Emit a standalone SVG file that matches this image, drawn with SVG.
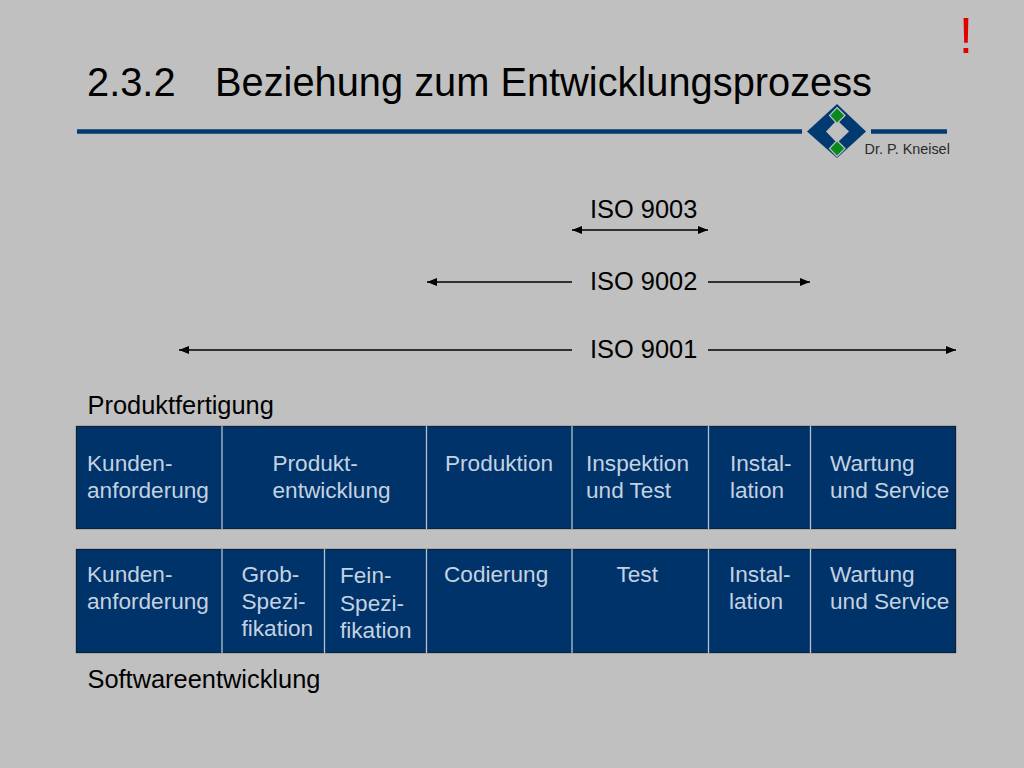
<svg xmlns="http://www.w3.org/2000/svg" width="1024" height="768" viewBox="0 0 1024 768">
<defs>
<marker id="a" markerUnits="userSpaceOnUse" markerWidth="11" markerHeight="9" refX="10" refY="4.500" orient="auto-start-reverse"><path d="M0 0.500L10 4.500L0 8.500Z" fill="#000"/></marker>
</defs>
<style>
text{font-family:"Liberation Sans",Arial,sans-serif}
.k{font-size:25.400px;fill:#000}
.c{font-size:22.600px;fill:#c4d2e0}
.b{fill:#00336a;stroke:#0b2238;stroke-width:1.3}
.d{stroke:#b4c0cc;stroke-width:1.3;fill:none}
.l{stroke:#000;stroke-width:1.4;fill:none;marker-start:url(#a);marker-end:url(#a)}
.o{stroke:#000;stroke-width:1.4;fill:none}
.h{stroke:#003a70;stroke-width:4.5;fill:none}
.g{fill:#0a8a1e;stroke:#c0c0c0;stroke-width:1.2}
</style>
<rect width="1024" height="768" fill="#c0c0c0"/>
<text x="87" y="96" font-size="39.800" fill="#000" id="title">2.3.2</text>
<text x="215" y="96" font-size="39.800" fill="#000">Beziehung zum Entwicklungsprozess</text>
<text x="959" y="53" font-size="50" fill="#e00000" id="mark">!</text>
<g id="logo">
<path class="h" d="M77 131.500H802M871 131.500H947"/>
<path d="M837 104L866 131.500L837 158L807 131.500Z" fill="#003a70"/>
<path d="M837 120L849 131.500L837 143L826 131.500Z" fill="#c0c0c0"/>
<path class="g" d="M837 107.500L845 115.500L837 123.500L829.500 115.500Z"/>
<path class="g" d="M837 140.500L845 148.500L837 156.500L829.500 148.500Z"/>
<text x="864.500" y="154" font-size="14.400" fill="#2a2a2a">Dr. P. Kneisel</text>
</g>
<g id="connectors">
<path class="l" d="M572 230H708"/>
<path class="o" d="M427 282H572" marker-start="url(#a)"/>
<path class="o" d="M708 282H810" marker-end="url(#a)"/>
<path class="o" d="M179 350H572" marker-start="url(#a)"/>
<path class="o" d="M708 350H956" marker-end="url(#a)"/>
</g>
<g id="iso"><text class="k" x="590" y="217.500">ISO 9003</text><text class="k" x="590" y="290">ISO 9002</text><text class="k" x="590" y="358">ISO 9001</text></g>
<text class="k" x="87.500" y="414" id="pf">Produktfertigung</text>
<g id="row1">
<rect class="b" x="76.500" y="426.500" width="879" height="102"/>
<path class="d" d="M222 426V529M426.500 426V529M572 426V529M708.500 426V529M810.500 426V529"/>
<text class="c" x="87" y="471">Kunden-</text><text class="c" x="87" y="498">anforderung</text>
<text class="c" x="272.500" y="471">Produkt-</text><text class="c" x="272.500" y="498">entwicklung</text>
<text class="c" x="445" y="471">Produktion</text>
<text class="c" x="586" y="471">Inspektion</text><text class="c" x="586" y="498">und Test</text>
<text class="c" x="730" y="471">Instal-</text><text class="c" x="730" y="498">lation</text>
<text class="c" x="830" y="471">Wartung</text><text class="c" x="830" y="498">und Service</text>
</g>
<g id="row2">
<rect class="b" x="76.500" y="549.500" width="879" height="103"/>
<path class="d" d="M222 549V653M324.500 549V653M426.500 549V653M572 549V653M708.500 549V653M810.500 549V653"/>
<text class="c" x="87" y="582">Kunden-</text><text class="c" x="87" y="609">anforderung</text>
<text class="c" x="241.500" y="582">Grob-</text><text class="c" x="241.500" y="609">Spezi-</text><text class="c" x="241.500" y="636">fikation</text>
<text class="c" x="340" y="583">Fein-</text><text class="c" x="340" y="611">Spezi-</text><text class="c" x="340" y="638">fikation</text>
<text class="c" x="444" y="582">Codierung</text>
<text class="c" x="616.500" y="582">Test</text>
<text class="c" x="729" y="582">Instal-</text><text class="c" x="729" y="609">lation</text>
<text class="c" x="830" y="582">Wartung</text><text class="c" x="830" y="609">und Service</text>
</g>
<text class="k" x="87.500" y="687.500" id="sw">Softwareentwicklung</text>
</svg>
